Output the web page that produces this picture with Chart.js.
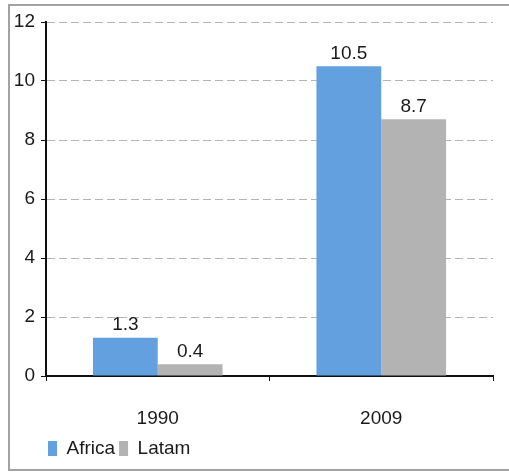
<!DOCTYPE html>
<html>
<head>
<meta charset="utf-8">
<script src="https://cdn.jsdelivr.net/npm/chart.js@4.4.0/dist/chart.umd.min.js"></script>
<style>
    html, body { margin: 0; padding: 0; background: #fff; }
</style>
</head>
<body>
<canvas id="incomeChart" width="509" height="472"></canvas>
<script>
// Chart data
const years = ['1990', '2009'];
const africaValues = [1.3, 10.5];
const latamValues = [0.4, 8.7];
const yMin = 0;
const yMax = 12;
const yStep = 2;

const FONT = "'Liberation Sans', Arial, sans-serif";

// Outer frame around the chart
const framePlugin = {
    id: 'frame',
    beforeDraw(chart) {
        const ctx = chart.ctx;
        ctx.save();
        ctx.fillStyle = '#fff';
        ctx.fillRect(0, 0, chart.width, chart.height);
        ctx.strokeStyle = '#a2a2a2';
        ctx.lineWidth = 2;
        ctx.strokeRect(9, 5, chart.width, chart.height - 7);
        ctx.restore();
        // legend sits under the plot, starting at the y axis
        if (chart.legend) {
            chart.legend.left = chart.chartArea.left - 2;
        }
    }
};

// Value labels above the bars
const valueLabels = {
    id: 'valueLabels',
    afterDatasetsDraw(chart) {
        const ctx = chart.ctx;
        ctx.save();
        ctx.font = '19px ' + FONT;
        ctx.fillStyle = '#1a1a1a';
        ctx.textAlign = 'center';
        ctx.textBaseline = 'bottom';
        chart.data.datasets.forEach((ds, i) => {
            chart.getDatasetMeta(i).data.forEach((bar, j) => {
                ctx.fillText(ds.data[j].toFixed(1), bar.x, bar.y - 3);
            });
        });
        ctx.restore();
    }
};

new Chart(document.getElementById('incomeChart'), {
    type: 'bar',
    data: {
        labels: years,
        datasets: [{
            label: 'Africa',
            data: africaValues,
            backgroundColor: '#63a0e0',
            borderWidth: 0
        }, {
            label: 'Latam',
            data: latamValues,
            backgroundColor: '#b3b3b3',
            borderWidth: 0
        }]
    },
    options: {
        responsive: false,
        animation: false,
        categoryPercentage: 0.58,
        barPercentage: 1.0,
        layout: { padding: { top: 22, right: 16, left: 10, bottom: 4 } },
        scales: {
            x: {
                afterFit: scale => { scale.height = 59; },
                border: { color: '#111', width: 2 },
                grid: {
                    drawOnChartArea: false,
                    tickLength: 5,
                    color: '#111',
                    lineWidth: 1
                },
                ticks: {
                    color: '#1a1a1a',
                    padding: 26,
                    font: { family: FONT, size: 19 }
                }
            },
            y: {
                min: yMin,
                max: yMax,
                afterFit: scale => { scale.width = 36; },
                border: { color: '#111', width: 2, dash: [8, 4] },
                grid: {
                    color: '#b5b5b5',
                    lineWidth: 1,
                    tickLength: 5,
                    tickColor: '#111',
                    tickBorderDash: [],
                    drawTicks: true
                },
                ticks: {
                    stepSize: yStep,
                    color: '#1a1a1a',
                    padding: 6,
                    font: { family: FONT, size: 19 }
                }
            }
        },
        plugins: {
            legend: {
                position: 'bottom',
                align: 'start',
                labels: {
                    boxWidth: 9,
                    boxHeight: 15,
                    padding: 4,
                    color: '#1a1a1a',
                    font: { family: FONT, size: 19 }
                }
            },
            tooltip: { enabled: false }
        }
    },
    plugins: [framePlugin, valueLabels]
});
</script>
</body>
</html>
